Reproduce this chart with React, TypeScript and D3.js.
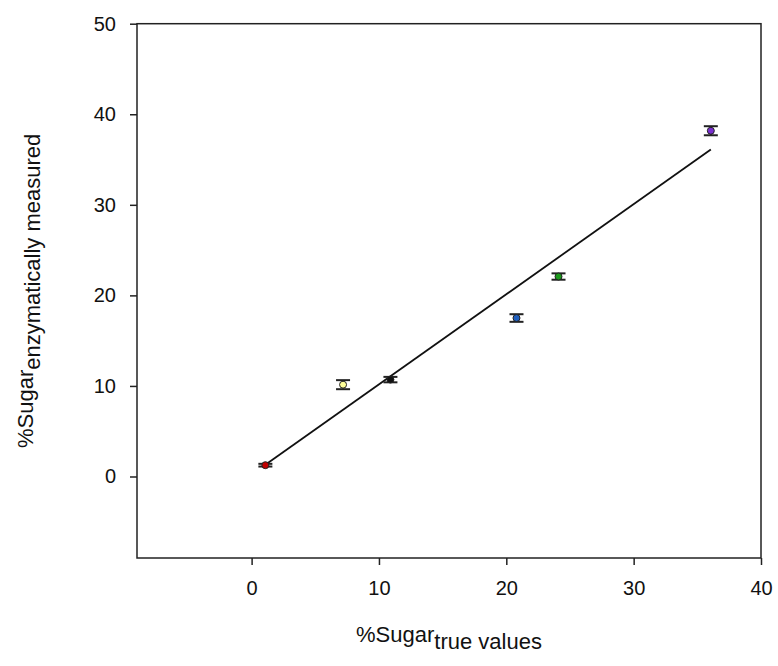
import React, { useEffect, useRef } from "react";
import * as d3 from "d3";

// measured points
const trueValues = [1.08, 7.18, 10.9, 20.8, 24.1, 36.06];
const measured = [1.25, 10.14, 10.7, 17.5, 22.08, 38.18];
const errors = [0.15, 0.5, 0.3, 0.42, 0.35, 0.5];
const pointColors = ["#c00000", "#ffff99", "#111111", "#1f5fbf", "#1a9a1a", "#7a2fd0"];

// regression line end points
const fitX = [1.08, 36.06];
const fitY = [1.3, 36.1];

const xTicks = [0, 10, 20, 30, 40];
const yTicks = [0, 10, 20, 30, 40, 50];

const App: React.FC = () => {
  const svgRef = useRef<SVGSVGElement | null>(null);

  useEffect(() => {
    if (!svgRef.current) return;

    const width = 778;
    const height = 666;
    const margin = { top: 23.7, right: 17, bottom: 108, left: 137 };

    d3.select(svgRef.current).selectAll("*").remove();
    const svg = d3
      .select(svgRef.current)
      .attr("width", width)
      .attr("height", height);

    const x = d3
      .scaleLinear()
      .domain([-9, 40])
      .range([margin.left, width - margin.right]);

    const y = d3
      .scaleLinear()
      .domain([-9, 50])
      .range([height - margin.bottom, margin.top]);

    const font = "Liberation Sans, Arial, sans-serif";

    // frame
    svg
      .append("rect")
      .attr("x", x(-9))
      .attr("y", y(50))
      .attr("width", x(40) - x(-9))
      .attr("height", y(-9) - y(50))
      .attr("fill", "none")
      .attr("stroke", "#222")
      .attr("stroke-width", 1.5);

    const xAxis = d3
      .axisBottom(x)
      .tickValues(xTicks)
      .tickSize(7)
      .tickPadding(16)
      .tickFormat(d3.format("d"));
    const gx = svg
      .append("g")
      .attr("transform", `translate(0, ${y(-9)})`)
      .call(xAxis);
    gx.select(".domain").remove();
    gx.selectAll("line").attr("stroke", "#222").attr("stroke-width", 1.5);
    gx.selectAll("text")
      .attr("fill", "#111")
      .style("font-family", font)
      .style("font-size", "20px");

    const yAxis = d3
      .axisLeft(y)
      .tickValues(yTicks)
      .tickSize(7)
      .tickPadding(14)
      .tickFormat(d3.format("d"));
    const gy = svg
      .append("g")
      .attr("transform", `translate(${x(-9)}, 0)`)
      .call(yAxis);
    gy.select(".domain").remove();
    gy.selectAll("line").attr("stroke", "#222").attr("stroke-width", 1.5);
    gy.selectAll("text")
      .attr("fill", "#111")
      .style("font-family", font)
      .style("font-size", "20px");

    // regression line
    svg
      .append("line")
      .attr("x1", x(fitX[0]))
      .attr("y1", y(fitY[0]))
      .attr("x2", x(fitX[1]))
      .attr("y2", y(fitY[1]))
      .attr("stroke", "#111")
      .attr("stroke-width", 1.8);

    const pts = trueValues.map((v, i) => ({
      x: v,
      y: measured[i],
      e: errors[i],
      c: pointColors[i],
    }));

    // error bars
    const capW = 7;
    const eb = svg.append("g").attr("stroke", "#222").attr("stroke-width", 2);
    pts.forEach((d) => {
      const cx = x(d.x);
      eb.append("line")
        .attr("x1", cx)
        .attr("x2", cx)
        .attr("y1", y(d.y - d.e))
        .attr("y2", y(d.y + d.e));
      [d.y - d.e, d.y + d.e].forEach((v) => {
        eb.append("line")
          .attr("x1", cx - capW)
          .attr("x2", cx + capW)
          .attr("y1", y(v))
          .attr("y2", y(v));
      });
    });

    // points
    svg
      .selectAll(".pt")
      .data(pts)
      .enter()
      .append("circle")
      .attr("cx", (d) => x(d.x))
      .attr("cy", (d) => y(d.y))
      .attr("r", 3.5)
      .attr("fill", (d) => d.c)
      .attr("stroke", "#222")
      .attr("stroke-width", 1);

    // axis titles
    const xt = svg
      .append("text")
      .attr("x", (x(-9) + x(40)) / 2)
      .attr("y", 642)
      .attr("text-anchor", "middle")
      .attr("fill", "#111")
      .style("font-family", font)
      .style("font-size", "22px");
    xt.append("tspan").text("%Sugar");
    xt.append("tspan").attr("dy", 7).text("true values");

    const yt = svg
      .append("text")
      .attr("transform", `translate(33, ${(y(-9) + y(50)) / 2}) rotate(-90)`)
      .attr("text-anchor", "middle")
      .attr("fill", "#111")
      .style("font-family", font)
      .style("font-size", "22px");
    yt.append("tspan").text("%Sugar");
    yt.append("tspan").attr("dy", 7).text("enzymatically measured");
  }, []);

  return (
    <div style={{ position: "absolute", left: 0, top: 0, background: "#fff" }}>
      <svg ref={svgRef} style={{ display: "block" }}></svg>
    </div>
  );
};

export default App;
